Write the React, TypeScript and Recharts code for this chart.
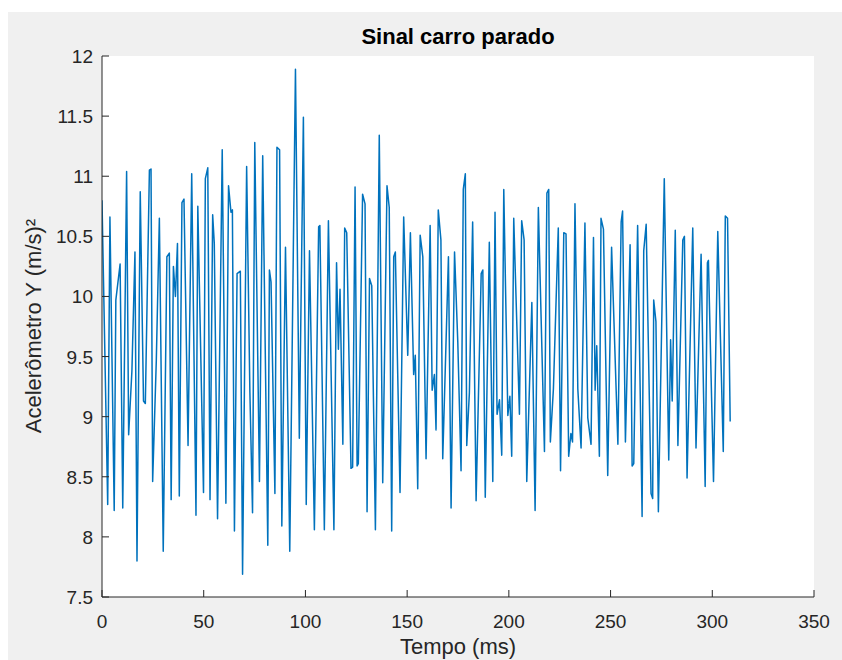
import { LineChart, Line, XAxis, YAxis } from "recharts"

// tempo (ms) dos vértices
const tempo = [
  0, 2.8, 3.9, 6.0, 6.8, 8.9, 10.2, 12.1, 13.1, 14.7, 16.2, 17.2, 18.8, 20.4, 21.3, 23.3, 24.1, 24.9, 26.7, 28.2,
  30.1, 31.9, 33.1, 34.0, 35.1, 36.1, 37.1, 38.0, 39.3, 40.3, 42.3, 44.1, 46.2, 47.1, 49.9, 50.8, 52.0, 53.1, 54.4, 55.2,
  56.8, 59.1, 60.9, 62.2, 63.4, 64.1, 65.1, 66.4, 68.0, 69.1, 71.1, 72.7, 74.0, 75.1, 77.4, 79.0, 81.5, 82.3, 83.1, 85.0,
  86.0, 87.3, 88.4, 90.2, 92.3, 95.1, 97.0, 99.0, 100.4, 102.0, 104.4, 106.5, 107.1, 109.3, 111.3, 114.0, 115.3, 116.2, 117.0, 118.4,
  119.3, 120.3, 122.4, 123.2, 124.4, 125.4, 126.0, 128.1, 129.3, 130.3, 131.5, 132.6, 134.4, 136.3, 138.0, 140.1, 141.2, 142.4, 143.4, 144.2,
  146.5, 148.3, 150.3, 151.6, 153.2, 154.0, 155.2, 156.4, 157.7, 159.3, 161.3, 162.3, 163.4, 164.2, 165.3, 166.6, 167.5, 170.3, 171.6, 173.3,
  174.9, 176.5, 177.6, 178.6, 179.3, 180.6, 182.2, 183.9, 186.4, 187.2, 188.4, 190.4, 192.1, 193.2, 194.2, 195.4, 196.5, 197.5, 199.5, 200.5,
  201.4, 202.4, 205.2, 206.3, 207.5, 208.8, 211.3, 212.9, 214.5, 217.5, 218.7, 219.6, 220.4, 221.9, 224.3, 225.4, 227.0, 228.1, 229.4, 230.5,
  231.3, 232.5, 233.9, 235.5, 237.4, 238.8, 240.4, 241.6, 242.4, 243.2, 244.5, 245.3, 246.5, 248.6, 250.5, 253.6, 255.2, 255.9, 257.3, 259.6,
  260.6, 261.4, 263.3, 265.5, 266.3, 267.5, 269.9, 270.7, 271.2, 272.3, 273.5, 276.4, 278.6, 279.5, 280.3, 281.8, 283.1, 285.5, 286.3, 287.6,
  290.4, 292.0, 294.5, 296.5, 297.6, 298.1, 300.6, 302.7, 305.4, 306.4, 307.5, 308.8,
]

// aceleração Y (m/s²)
const aceleracao = [
  10.8, 8.27, 10.66, 8.22, 9.97, 10.27, 8.24, 11.04, 8.85, 9.38, 10.37, 7.8, 10.87, 9.13, 9.11, 11.05, 11.06, 8.46, 9.47, 10.65,
  7.88, 10.33, 10.36, 8.31, 10.25, 10.0, 10.44, 8.34, 10.78, 10.81, 8.76, 11.02, 8.18, 10.75, 8.37, 10.98, 11.07, 8.31, 10.68, 10.44,
  8.15, 11.22, 8.28, 10.92, 10.7, 10.72, 8.05, 10.19, 10.21, 7.69, 11.08, 9.2, 8.2, 11.28, 8.46, 11.17, 7.93, 10.22, 10.12, 8.36,
  11.24, 11.22, 8.09, 10.41, 7.88, 11.89, 8.82, 11.49, 8.27, 10.38, 8.06, 10.58, 10.59, 8.06, 10.63, 8.06, 10.28, 9.56, 10.06, 8.77,
  10.57, 10.53, 8.57, 8.58, 10.91, 8.59, 8.61, 10.85, 10.77, 8.21, 10.15, 10.09, 8.06, 11.34, 8.45, 10.92, 10.74, 8.05, 10.33, 10.37,
  8.37, 10.66, 9.51, 10.53, 9.35, 9.51, 8.4, 10.51, 10.33, 8.65, 10.59, 9.22, 9.35, 8.89, 10.72, 10.47, 8.65, 10.33, 8.24, 10.37,
  9.62, 8.55, 10.89, 11.02, 8.76, 9.2, 10.62, 8.3, 10.19, 10.22, 8.33, 10.45, 8.46, 10.7, 9.02, 9.14, 8.68, 10.89, 9.01, 9.17,
  8.67, 10.65, 9.02, 10.63, 10.47, 8.46, 9.95, 8.22, 10.74, 8.71, 10.86, 10.89, 8.79, 9.23, 10.57, 8.55, 10.53, 10.52, 8.67, 8.86,
  8.79, 10.77, 9.23, 8.74, 10.61, 8.99, 8.77, 10.49, 9.22, 9.59, 8.67, 10.65, 10.56, 8.51, 10.41, 8.77, 10.62, 10.71, 8.79, 10.43,
  8.59, 8.61, 10.59, 8.17, 10.38, 10.6, 8.36, 8.32, 9.97, 9.79, 8.21, 10.98, 8.64, 9.64, 9.13, 10.55, 8.76, 10.47, 10.5, 8.49,
  10.57, 8.74, 10.35, 8.42, 10.28, 10.3, 8.46, 10.54, 8.71, 10.67, 10.65, 8.96,
]

const xTicks = [0, 50, 100, 150, 200, 250, 300, 350]
const yTicks = [7.5, 8, 8.5, 9, 9.5, 10, 10.5, 11, 11.5, 12]

const dados = tempo.map((t, i) => ({ t, v: aceleracao[i] }))

const FONTE = "'Liberation Sans', Arial, Helvetica, sans-serif"
const COR_EIXO = "#262626"

const TickBaixo = (props: any) => {
  const { x, y, payload } = props
  return (
    <g>
      <line x1={x} y1={y} x2={x} y2={y - 7} stroke={COR_EIXO} />
      <text x={x} y={y + 31} textAnchor="middle" fill={COR_EIXO} fontSize={19} fontFamily={FONTE}>
        {payload.value}
      </text>
    </g>
  )
}

const TickTopo = (props: any) => {
  const { x, y } = props
  return <line x1={x} y1={y} x2={x} y2={y + 7} stroke={COR_EIXO} />
}

const TickEsq = (props: any) => {
  const { x, y, payload } = props
  return (
    <g>
      <line x1={x} y1={y} x2={x + 7} y2={y} stroke={COR_EIXO} />
      <text x={x - 9} y={y + 7} textAnchor="end" fill={COR_EIXO} fontSize={19} fontFamily={FONTE}>
        {payload.value}
      </text>
    </g>
  )
}

const TickDir = (props: any) => {
  const { x, y } = props
  return <line x1={x} y1={y} x2={x - 7} y2={y} stroke={COR_EIXO} />
}

export default function App() {
  return (
    <div style={{ position: "relative", width: 842, height: 660, background: "#fff", fontFamily: FONTE }}>
      <style>{"body{margin:0}"}</style>
      <div style={{ position: "absolute", left: 8, top: 12, right: 0, bottom: 0, background: "#f0f0f0" }} />
      <div style={{ position: "absolute", left: 102, top: 56, width: 712, height: 541, background: "#fff" }} />
      <div style={{ position: "absolute", left: 0, top: 0 }}>
        <LineChart width={842} height={660} data={dados} margin={{ top: 56, right: 28, bottom: 0, left: 0 }}>
          <XAxis
            dataKey="t"
            type="number"
            domain={[0, 350]}
            ticks={xTicks}
            interval={0}
            allowDataOverflow
            height={63}
            tickSize={0}
            tickMargin={0}
            tick={<TickBaixo />}
            axisLine={{ stroke: COR_EIXO }}
          />
          <XAxis
            xAxisId="topo"
            orientation="top"
            type="number"
            domain={[0, 350]}
            ticks={xTicks}
            interval={0}
            height={0}
            tickSize={0}
            tickMargin={0}
            tick={<TickTopo />}
            axisLine={{ stroke: COR_EIXO }}
          />
          <YAxis
            type="number"
            domain={[7.5, 12]}
            ticks={yTicks}
            interval={0}
            allowDataOverflow
            width={102}
            tickSize={0}
            tickMargin={0}
            tick={<TickEsq />}
            axisLine={{ stroke: COR_EIXO }}
          />
          <YAxis
            yAxisId="dir"
            orientation="right"
            type="number"
            domain={[7.5, 12]}
            ticks={yTicks}
            interval={0}
            width={0}
            tickSize={0}
            tickMargin={0}
            tick={<TickDir />}
            axisLine={{ stroke: COR_EIXO }}
          />
          <Line
            type="linear"
            dataKey="v"
            stroke="#0072BD"
            strokeWidth={1.5}
            strokeLinejoin="round"
            dot={false}
            isAnimationActive={false}
          />
        </LineChart>
      </div>
      <div
        style={{
          position: "absolute",
          left: 458,
          top: 26,
          transform: "translateX(-50%)",
          fontSize: 22,
          lineHeight: "22px",
          fontWeight: "bold",
          color: "#000",
          whiteSpace: "nowrap",
        }}
      >
        Sinal carro parado
      </div>
      <div
        style={{
          position: "absolute",
          left: 458,
          top: 636,
          transform: "translateX(-50%)",
          fontSize: 22,
          lineHeight: "22px",
          color: COR_EIXO,
          whiteSpace: "nowrap",
        }}
      >
        Tempo (ms)
      </div>
      <div
        style={{
          position: "absolute",
          left: 34,
          top: 326,
          transform: "translate(-50%, -50%) rotate(-90deg)",
          fontSize: 22,
          lineHeight: "22px",
          color: COR_EIXO,
          whiteSpace: "nowrap",
        }}
      >
        Acelerômetro Y (m/s)²
      </div>
    </div>
  )
}
